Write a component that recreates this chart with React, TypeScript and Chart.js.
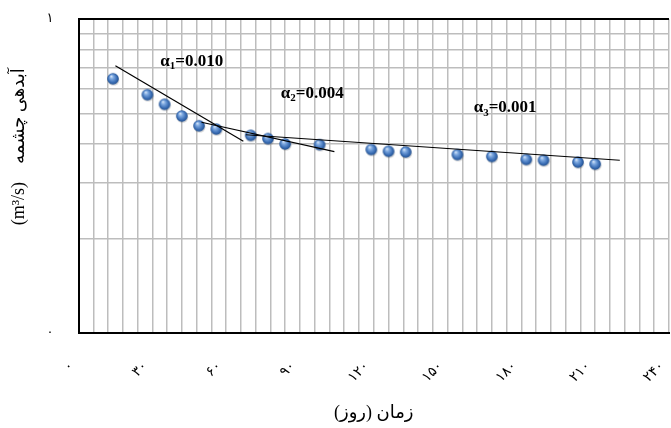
import React, { useEffect, useRef } from 'react';
import { Chart, registerables } from 'chart.js';

Chart.register(...registerables);

// Observations: day vs spring discharge (log scale)
const days = [14, 28, 35, 42, 49, 56, 70, 77, 84, 98, 119, 126, 133, 154, 168, 182, 189, 203, 210];
const discharge = [0.645, 0.574, 0.535, 0.491, 0.457, 0.446, 0.426, 0.416, 0.4, 0.398, 0.384, 0.379, 0.377, 0.37, 0.365, 0.357, 0.355, 0.35, 0.345];

// Recession trend segments (start / end)
const line1Days = [15, 67];
const line1Values = [0.71, 0.408];
const line2Days = [50, 104];
const line2Values = [0.469, 0.378];
const line3Days = [68, 220];
const line3Values = [0.428, 0.355];

// Recession coefficient labels
const alphaSubs = ['1', '2', '3'];
const alphaTexts = ['=0.010', '=0.004', '=0.001'];
const alphaDays = [46, 95, 173.4];
const alphaValues = [0.74, 0.585, 0.526];

// Axes
const xMin = 0;
const xMax = 240;
const xGridStep = 6;
const xLabelStep = 30;
const yTickValues = [0.1, 0.2, 0.3, 0.4, 0.5, 0.6, 0.7, 0.8, 0.9, 1];
const yLabelled: Record<string, string> = { '0.1': '۰', '1': '۱' };

const xTitle = '\u202Bزمان (روز)\u202C';
const yTitle = '\u2003\u2003\u2003 (m³/s)\u2002  آبدهی چشمه';

const faDigits = '۰۱۲۳۴۵۶۷۸۹';
const toFa = (n: number) => String(n).replace(/\d/g, (d) => faDigits[+d]);

function makeSphere(): HTMLCanvasElement {
  const c = document.createElement('canvas');
  c.width = 16;
  c.height = 16;
  const ctx = c.getContext('2d')!;
  ctx.fillStyle = 'rgba(0,0,0,0.16)';
  ctx.beginPath();
  ctx.ellipse(8.6, 9.6, 5.8, 5.2, 0, 0, Math.PI * 2);
  ctx.fill();
  const cx = 8, cy = 8, r = 5.8;
  const g = ctx.createRadialGradient(cx - 1.8, cy - 2.6, 0.3, cx, cy, r);
  g.addColorStop(0, '#d4e4f8');
  g.addColorStop(0.3, '#7ea9e0');
  g.addColorStop(0.72, '#3d70b7');
  g.addColorStop(1, '#22508f');
  ctx.fillStyle = g;
  ctx.beginPath();
  ctx.arc(cx, cy, r, 0, Math.PI * 2);
  ctx.fill();
  return c;
}

const alphaPlugin = {
  id: 'alphaLabels',
  afterDatasetsDraw(chart: any) {
    const { ctx, scales } = chart;
    const xs = scales.x;
    const ys = scales.y;
    ctx.save();
    ctx.fillStyle = '#000';
    ctx.textBaseline = 'alphabetic';
    ctx.textAlign = 'left';
    const big = 'bold 17px "Liberation Serif", serif';
    const small = 'bold 11px "Liberation Serif", serif';
    for (let i = 0; i < alphaSubs.length; i++) {
      const cx = xs.getPixelForValue(alphaDays[i]);
      const cy = ys.getPixelForValue(alphaValues[i]);
      ctx.font = big;
      const wA = ctx.measureText('α').width;
      const wT = ctx.measureText(alphaTexts[i]).width;
      ctx.font = small;
      const wS = ctx.measureText(alphaSubs[i]).width;
      const total = wA + wS + wT;
      let x = cx - total / 2;
      const base = cy + 5.5;
      ctx.font = big;
      ctx.fillText('α', x, base);
      x += wA;
      ctx.font = small;
      ctx.fillText(alphaSubs[i], x, base + 3.5);
      x += wS;
      ctx.font = big;
      ctx.fillText(alphaTexts[i], x, base);
    }
    ctx.restore();
  },
};

export default function App() {
  const ref = useRef<HTMLCanvasElement | null>(null);

  useEffect(() => {
    if (!ref.current) return;
    const sphere = makeSphere();
    const seg = (d: number[], v: number[]) => d.map((x, i) => ({ x, y: v[i] }));
    const lineStyle = {
      showLine: true,
      pointRadius: 0,
      borderColor: '#000',
      borderWidth: 1.2,
      fill: false,
      order: 1,
    };
    const gridColor = '#bdbdbd';
    const chart = new Chart(ref.current, {
      type: 'scatter',
      data: {
        datasets: [
          { ...lineStyle, data: seg(line1Days, line1Values) },
          { ...lineStyle, data: seg(line2Days, line2Values) },
          { ...lineStyle, data: seg(line3Days, line3Values) },
          {
            data: seg(days, discharge),
            pointStyle: sphere as any,
            pointRadius: 6,
            showLine: false,
            order: 2,
          },
        ],
      } as any,
      options: {
        responsive: false,
        animation: false,
        devicePixelRatio: 1,
        layout: { padding: { top: 19, left: 0, right: 0, bottom: 0 } },
        plugins: { legend: { display: false }, tooltip: { enabled: false } },
        scales: {
          x: {
            type: 'linear',
            min: xMin,
            max: xMax,
            afterFit: (s: any) => {
              s.height = 95;
              s.paddingLeft = 0;
              s.paddingRight = 0;
            },
            ticks: {
              stepSize: xGridStep,
              autoSkip: false,
              minRotation: 45,
              maxRotation: 45,
              padding: 25,
              labelOffset: -7,
              color: '#000',
              font: { family: '"DejaVu Sans"', size: 14 },
              callback: (v: any) => (Number(v) % xLabelStep === 0 ? toFa(Number(v)) : ''),
            },
            grid: {
              drawTicks: false,
              color: (c: any) => (c.tick && c.tick.value === 0 ? '#000' : gridColor),
              lineWidth: (c: any) => (c.tick && c.tick.value === 0 ? 2 : 1.5),
            },
            border: { color: '#000', width: 2 },
            title: {
              display: true,
              text: xTitle,
              color: '#000',
              font: { family: '"Liberation Serif", "DejaVu Sans"', size: 18 },
              padding: { top: 0, bottom: 4 },
            },
          },
          y: {
            type: 'logarithmic',
            min: 0.1,
            max: 1,
            afterBuildTicks: (s: any) => {
              s.ticks = yTickValues.map((value) => ({ value }));
            },
            afterFit: (s: any) => {
              s.width = 78.5;
              s.paddingTop = 0;
              s.paddingBottom = 0;
            },
            ticks: {
              autoSkip: false,
              padding: 25,
              color: '#000',
              font: { family: '"DejaVu Sans"', size: 13 },
              callback: (v: any) => yLabelled[String(Number(v))] ?? '',
            },
            grid: {
              drawTicks: false,
              color: (c: any) =>
                c.tick && (c.tick.value === 1 || c.tick.value === 0.1) ? '#000' : gridColor,
              lineWidth: (c: any) =>
                c.tick && (c.tick.value === 1 || c.tick.value === 0.1) ? 2 : 1.5,
            },
            border: { color: '#000', width: 2 },
            title: {
              display: true,
              text: yTitle,
              color: '#000',
              font: { family: '"Liberation Serif", "DejaVu Sans"', size: 18 },
              padding: { top: 8, bottom: 0 },
            },
          },
        },
      } as any,
      plugins: [alphaPlugin],
    });
    return () => chart.destroy();
  }, []);

  return (
    <div
      style={{
        position: 'fixed',
        left: 0,
        top: 0,
        width: 671,
        height: 428,
        overflow: 'hidden',
        background: '#fff',
      }}
    >
      <canvas ref={ref} width={676} height={428} style={{ display: 'block', width: 676, height: 428 }} />
    </div>
  );
}
